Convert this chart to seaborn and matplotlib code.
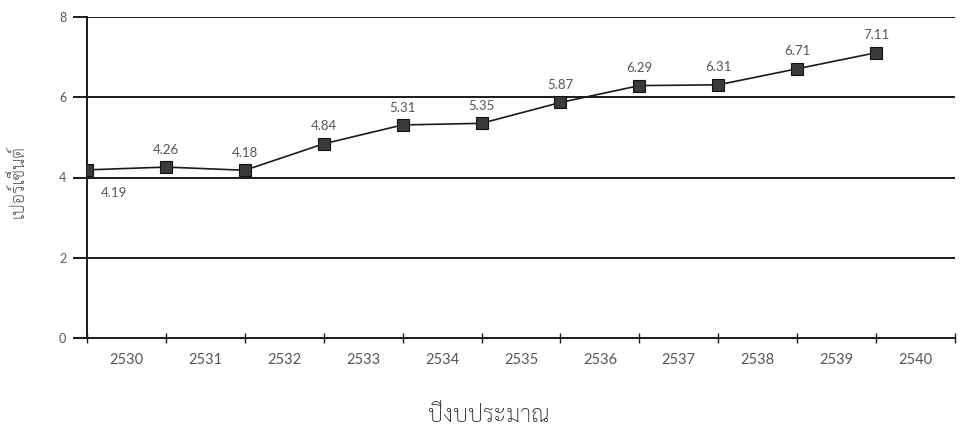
import matplotlib
matplotlib.use("Agg")
import matplotlib.pyplot as plt
import seaborn as sns
import pandas as pd
from matplotlib.ticker import FixedLocator, FixedFormatter, NullFormatter

# Budget-share series by fiscal year (Thai Buddhist calendar)
years = ["2530", "2531", "2532", "2533", "2534", "2535",
         "2536", "2537", "2538", "2539", "2540"]
percent = [4.19, 4.26, 4.18, 4.84, 5.31, 5.35, 5.87, 6.29, 6.31, 6.71, 7.11]
y_ticks = [0, 2, 4, 6, 8]

df = pd.DataFrame({"pos": range(len(percent)), "percent": percent})

sns.set_theme(style="white")
plt.rcParams["font.family"] = ["Lato", "DejaVu Sans"]

fig = plt.figure(figsize=(9.65, 4.28), dpi=100)
ax = fig.add_axes([87 / 965, 1 - 338 / 428, (955 - 87) / 965, (338 - 17) / 428])

num_color = "#555555"
thai = ["Sarabun", "DejaVu Sans"]

# horizontal reference lines
for v in y_ticks[1:]:
    ax.axhline(v, color="#1a1a1a", lw=1.4, zorder=1)

sns.lineplot(data=df, x="pos", y="percent", ax=ax, color="#1a1a1a", lw=1.2,
             marker="s", markersize=8.5, markerfacecolor="#3a3a3a",
             markeredgecolor="#111111", markeredgewidth=0.8, zorder=3)

# value labels
for i, v in enumerate(percent):
    if i == 0:
        ax.annotate(f"{v:.2f}", (i, v), xytext=(10, -17), textcoords="offset points",
                    ha="left", va="center", fontsize=9.5, color=num_color)
    else:
        ax.annotate(f"{v:.2f}", (i, v), xytext=(0, 12.5), textcoords="offset points",
                    ha="center", va="center", fontsize=9.5, color=num_color)

ax.set_xlim(0, len(years))
ax.set_ylim(0, 8)

# tick marks on category boundaries, year labels in between
ax.xaxis.set_major_locator(FixedLocator(range(len(years) + 1)))
ax.xaxis.set_major_formatter(NullFormatter())
ax.xaxis.set_minor_locator(FixedLocator([i + 0.5 for i in range(len(years))]))
ax.xaxis.set_minor_formatter(FixedFormatter(years))
ax.tick_params(axis="x", which="major", direction="inout", length=7, width=1,
               color="#1a1a1a", bottom=True)
ax.tick_params(axis="x", which="minor", length=0, pad=11, labelsize=10.5,
               labelcolor=num_color, bottom=True)

ax.set_yticks(y_ticks)
ax.set_yticklabels([str(t) for t in y_ticks])
ax.tick_params(axis="y", direction="out", length=10, width=1.4, color="#1a1a1a",
               pad=5, labelsize=9, labelcolor=num_color, left=True)

for side in ["top", "right"]:
    ax.spines[side].set_visible(False)
for side in ["left", "bottom"]:
    ax.spines[side].set_color("#1a1a1a")
    ax.spines[side].set_linewidth(1.4)

ax.set_xlabel("ปีงบประมาณ", family=thai, fontsize=17, color="#2a2a2a",
              fontweight="light")
ax.xaxis.set_label_coords((489 - 87) / (955 - 87), -(405 - 338) / (338 - 17))
ax.set_ylabel("เปอร์เซ็นต์", family=thai, fontsize=13, color="#2a2a2a",
              fontweight="light")
ax.yaxis.set_label_coords(-(87 - 28) / (955 - 87), (338 - 182) / (338 - 17))

fig.savefig("out.png", dpi=100)
